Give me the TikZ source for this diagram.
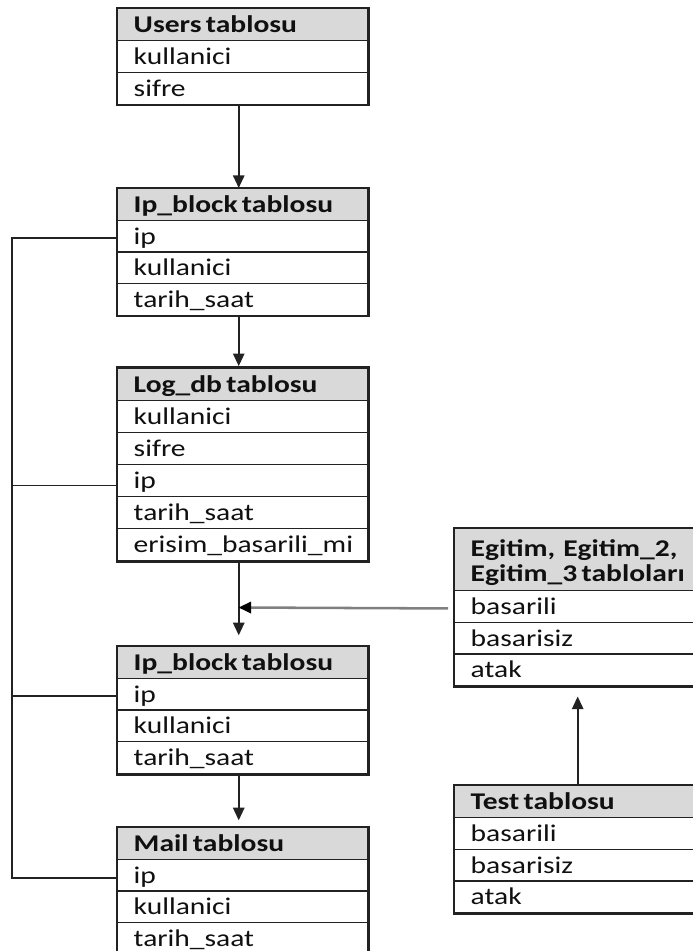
\documentclass[tikz,border=0pt]{standalone}
\usepackage{fontspec}
\setmainfont{Carlito}[FakeStretch=1.23]
\usetikzlibrary{arrows.meta}

\definecolor{hdrgray}{HTML}{D9D9D9}
\definecolor{ink}{HTML}{101010}
\definecolor{rule}{HTML}{222222}
\definecolor{feed}{HTML}{808080}

% narrow word gap used in the table titles
\newcommand\tsp{\hskip 0.18em\relax}

\tikzset{
  cell/.style={rectangle, draw=rule, line width=1.1pt, anchor=north west,
    inner xsep=0pt, inner ysep=0pt, text width=#1, align=left,
    minimum height=24pt, text height=15pt, text depth=3pt, text=ink,
    font=\fontsize{18pt}{19pt}\selectfont,
    execute at begin node={\hskip 12pt\relax}},
  cell/.default=187.5pt,
  hdr/.style={cell=#1, fill=hdrgray,
    font=\fontsize{18pt}{19pt}\selectfont\bfseries},
  hdr/.default=187.5pt,
  frame/.style={draw=rule, line width=1.7pt},
  arr/.style={draw=rule, line width=1.4pt, -{Triangle[length=9.5pt,width=8.5pt]}},
  feedarr/.style={draw=feed, line width=1.9pt,
    -{Triangle[length=9.5pt,width=8.5pt,color=black]}},
  bus/.style={draw=rule, line width=1.35pt},
}

\begin{document}
\begin{tikzpicture}[x=0.75pt, y=-0.75pt]
\useasboundingbox (0,0) rectangle (693,951);

% Users table
\node[hdr]  (users-h)         at (117,8)    {Users\tsp tablosu};
\node[cell] (users-kullanici) at (117,40)   {kullanici};
\node[cell] (users-sifre)     at (117,71.5) {sifre};
\draw[frame] (users-h.north west) rectangle (users-sifre.south east);

% first Ip_block table
\node[hdr]  (ipa-h)         at (117,188)   {Ip\_block\tsp tablosu};
\node[cell] (ipa-ip)        at (117,219.5) {ip};
\node[cell] (ipa-kullanici) at (117,251)   {kullanici};
\node[cell] (ipa-tarih)     at (117,282.5) {tarih\_saat};
\draw[frame] (ipa-h.north west) rectangle (ipa-tarih.south east);

% Log_db table
\node[hdr]  (log-h)         at (117,367.5) {Log\_db\tsp tablosu};
\node[cell] (log-kullanici) at (117,400)   {kullanici};
\node[cell] (log-sifre)     at (117,432)   {sifre};
\node[cell] (log-ip)        at (117,464)   {ip};
\node[cell] (log-tarih)     at (117,496)   {tarih\_saat};
\node[cell] (log-erisim)    at (117,528)   {erisim\_basarili\_mi};
\draw[frame] (log-h.north west) rectangle (log-erisim.south east);

% second Ip_block table
\node[hdr]  (ipb-h)         at (117,646)   {Ip\_block\tsp tablosu};
\node[cell] (ipb-ip)        at (117,677.5) {ip};
\node[cell] (ipb-kullanici) at (117,709)   {kullanici};
\node[cell] (ipb-tarih)     at (117,741)   {tarih\_saat};
\draw[frame] (ipb-h.north west) rectangle (ipb-tarih.south east);

% Mail table
\node[hdr]  (mail-h)         at (117,827)   {Mail\tsp tablosu};
\node[cell] (mail-ip)        at (117,858.5) {ip};
\node[cell] (mail-kullanici) at (117,890)   {kullanici};
\node[cell] (mail-tarih)     at (117,922)   {tarih\_saat};
\draw[frame] (mail-h.north west) rectangle (mail-tarih.south east);

% Egitim tables
\node[hdr=182.25pt, minimum height=46.5pt, text depth=20pt]
      (egt-h) at (454,528) {Egitim, Egitim\_2,\\\hskip 12pt\relax Egitim\_3\tsp tabloları};
\node[cell=182.25pt] (egt-basarili)  at (454,590)   {basarili};
\node[cell=182.25pt] (egt-basarisiz) at (454,621.5) {basarisiz};
\node[cell=182.25pt] (egt-atak)      at (454,653)   {atak};
\draw[frame] (egt-h.north west) rectangle (egt-atak.south east);

% Test table
\node[hdr=182.25pt]  (test-h)         at (454,785)   {Test\tsp tablosu};
\node[cell=182.25pt] (test-basarili)  at (454,817)   {basarili};
\node[cell=182.25pt] (test-basarisiz) at (454,848.5) {basarisiz};
\node[cell=182.25pt] (test-atak)      at (454,880)   {atak};
\draw[frame] (test-h.north west) rectangle (test-atak.south east);

% main flow
\draw[arr] ([xshift=-3pt]users-sifre.south) -- ([xshift=-3pt]ipa-h.north);
\draw[arr, shorten >=1pt] ([xshift=-3pt]ipa-tarih.south) -- ([xshift=-3pt]log-h.north);
\draw[arr, shorten >=8pt] ([xshift=-3pt]log-erisim.south) -- ([xshift=-3pt]ipb-h.north);
\draw[arr, shorten >=5pt] ([xshift=-3pt]ipb-tarih.south) -- ([xshift=-3pt]mail-h.north);

% training data feeding into the flow
\coordinate (merge) at (238.5,607.5);
\draw[feedarr, shorten <=4.5pt] ([yshift=-1.3pt]egt-basarili.west) -- (merge);
\draw[arr, shorten >=7.5pt] ([xshift=1.1pt]test-h.north) -- ([xshift=1.1pt]egt-atak.south);

% ip links along the left side
\coordinate (bus) at (12,0);
\coordinate (ipa-tap)  at ([yshift=-1.1pt]ipa-ip.west);
\coordinate (log-tap)  at ([yshift=-3.5pt]log-ip.west);
\coordinate (ipb-tap)  at ([yshift=-1.1pt]ipb-ip.west);
\coordinate (mail-tap) at ([yshift=-2pt]mail-ip.west);
\draw[bus] (ipa-tap) -| (bus |- mail-tap) -- (mail-tap);
\draw[bus] (log-tap) -- (bus |- log-tap);
\draw[bus] (ipb-tap) -- (bus |- ipb-tap);
\end{tikzpicture}
\end{document}
